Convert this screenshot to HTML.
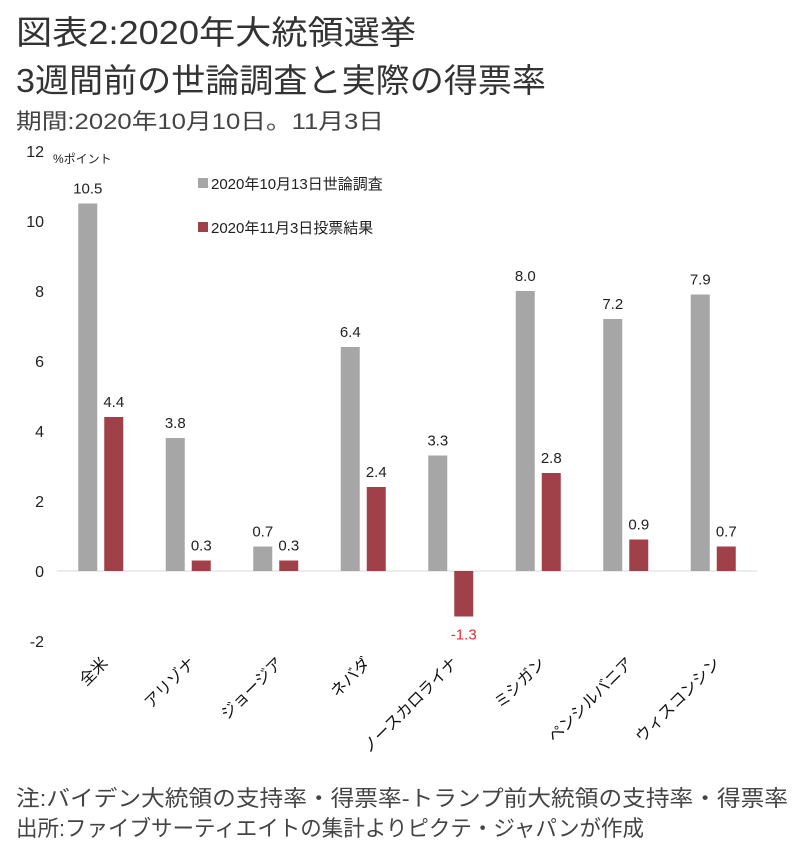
<!DOCTYPE html>
<html><head><meta charset="utf-8"><style>
html,body{margin:0;padding:0;background:#fff;}
svg text{font-family:"Liberation Sans","Noto Sans CJK JP",sans-serif;}
</style></head><body>
<svg id="chart" width="798" height="843" viewBox="0 0 798 843" xmlns="http://www.w3.org/2000/svg">
<text x="16" y="44" font-size="33" fill="#333" textLength="400" lengthAdjust="spacingAndGlyphs">図表2:2020年大統領選挙</text>
<text x="16" y="92" font-size="33" fill="#333" textLength="530" lengthAdjust="spacingAndGlyphs">3週間前の世論調査と実際の得票率</text>
<text x="16" y="129" font-size="22" fill="#444" textLength="368" lengthAdjust="spacingAndGlyphs">期間:2020年10月10日。11月3日</text>
<text x="53" y="163" font-size="12" fill="#222">%ポイント</text>
<g id="legend">
<rect x="198" y="178" width="10" height="10" fill="#a6a6a6"/>
<text x="211" y="189" font-size="15" fill="#222">2020年10月13日世論調査</text>
<rect x="198" y="222" width="10" height="10" fill="#a0414a"/>
<text x="211" y="233" font-size="15" fill="#222">2020年11月3日投票結果</text>
</g>
<g id="yaxis"></g>
<g id="bars"></g>
<g id="xlabels"></g>
<text x="16" y="806" font-size="22" fill="#444" textLength="772" lengthAdjust="spacingAndGlyphs">注:バイデン大統領の支持率・得票率-トランプ前大統領の支持率・得票率</text>
<text x="16" y="836" font-size="22" fill="#444" textLength="628" lengthAdjust="spacingAndGlyphs">出所:ファイブサーティエイトの集計よりピクテ・ジャパンが作成</text>
</svg>
<script>
const categories=["全米","アリゾナ","ジョージア","ネバダ","ノースカロライナ","ミシガン","ペンシルバニア","ウィスコンシン"];
const pollValues=[10.5,3.8,0.7,6.4,3.3,8.0,7.2,7.9];
const resultValues=[4.4,0.3,0.3,2.4,-1.3,2.8,0.9,0.7];
const yTicks=[12,10,8,6,4,2,0,-2];
const NS="http://www.w3.org/2000/svg";
const x0=57,x1=757,zeroY=571,unit=35;
const step=(x1-x0)/categories.length;
function y(v){return zeroY-v*unit;}
function xc(i){return x0+step*(i+0.5);}
function mk(tag,attrs,parent){const e=document.createElementNS(NS,tag);for(const k in attrs)e.setAttribute(k,attrs[k]);parent.appendChild(e);return e;}
const ya=document.getElementById('yaxis'),bars=document.getElementById('bars'),xl=document.getElementById('xlabels');
yTicks.forEach(t=>{const e=mk('text',{x:44,y:y(t)+6,'font-size':16,fill:'#222','text-anchor':'end'},ya);e.textContent=t;

});
const ax=mk('line',{x1:x0,x2:x1,y1:zeroY,y2:zeroY,stroke:'#d9d9d9','stroke-width':1},ya);


const bw=19;
categories.forEach((c,i)=>{
 const cx=xc(i);
 const pv=pollValues[i],rv=resultValues[i];
 const g=mk('rect',{x:cx-22.5,y:Math.min(y(pv),zeroY),width:bw,height:Math.abs(y(pv)-zeroY),fill:'#a6a6a6'},bars);
 
 
 const r=mk('rect',{x:cx+3.5,y:Math.min(y(rv),zeroY),width:bw,height:Math.abs(y(rv)-zeroY),fill:'#a0414a'},bars);
 
 
 const pl=mk('text',{x:cx-13,y:y(pv)-10,'font-size':15,fill:'#222','text-anchor':'middle'},bars);pl.textContent=pv.toFixed(1);
 
 
 const ry=rv>=0?y(rv)-10:y(rv)+23;
 const rl=mk('text',{x:cx+13,y:ry,'font-size':15,fill:rv>=0?'#222':'#e03030','text-anchor':'middle'},bars);rl.textContent=rv.toFixed(1);
 
 
 const lx=cx+8,ly=664;
 const l=mk('text',{x:lx,y:ly,'font-size':16,fill:'#111','text-anchor':'end',transform:`rotate(-45 ${lx} ${ly})`},xl);l.textContent=c;
 
 
});
</script>
</body></html>
